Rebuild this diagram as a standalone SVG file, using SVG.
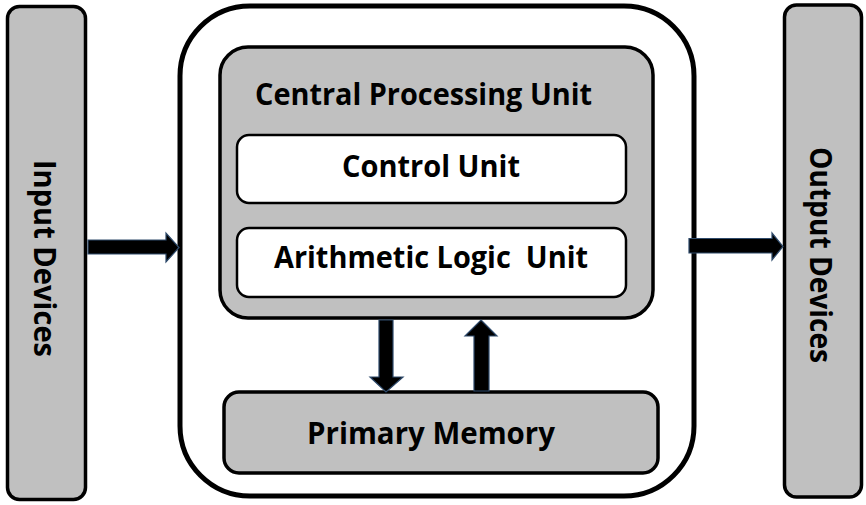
<svg xmlns="http://www.w3.org/2000/svg" width="866" height="505" viewBox="0 0 866 505">
<style>
.gray{fill:#c0c0c0;stroke:#000;stroke-width:3.5}
.white{fill:#fff;stroke:#000;stroke-width:2.5}
.outer{fill:#fff;stroke:#000;stroke-width:5}
.lbl{font-family:"Open Sans","Liberation Sans",sans-serif;font-weight:bold;font-size:30px;fill:#000;white-space:pre}
.arrow{fill:#000;stroke:#2e4a6b;stroke-width:1.2;stroke-linejoin:miter}
</style>
<rect width="866" height="505" fill="#fff"/>
<g id="input-devices">
<rect class="gray" x="7.5" y="6.5" width="78" height="493" rx="12"/>
<text class="lbl" transform="translate(34,160) rotate(90)" textLength="197" lengthAdjust="spacingAndGlyphs">Input Devices</text>
</g>
<g id="computer">
<rect class="outer" x="180" y="6" width="514" height="490" rx="70"/>
</g>
<g id="cpu">
<rect class="gray" x="220" y="47" width="433" height="271" rx="28"/>
<text class="lbl" x="255" y="105" textLength="337" lengthAdjust="spacingAndGlyphs">Central Processing Unit</text>
</g>
<g id="control-unit">
<rect class="white" x="237" y="135" width="389" height="68" rx="12"/>
<text class="lbl" x="342" y="177" textLength="178" lengthAdjust="spacingAndGlyphs">Control Unit</text>
</g>
<g id="alu">
<rect class="white" x="237" y="228" width="389" height="69" rx="12"/>
<text class="lbl" x="274" y="267.5" textLength="314" lengthAdjust="spacingAndGlyphs">Arithmetic Logic  Unit</text>
</g>
<g id="primary-memory">
<rect class="gray" x="224" y="392" width="434" height="81" rx="15"/>
<text class="lbl" x="307" y="443.5" textLength="248" lengthAdjust="spacingAndGlyphs">Primary Memory</text>
</g>
<g id="output-devices">
<rect class="gray" x="784.5" y="5" width="77" height="492" rx="12"/>
<text class="lbl" transform="translate(810,147) rotate(90)" textLength="216" lengthAdjust="spacingAndGlyphs">Output Devices</text>
</g>
<g id="connectors">
<polygon class="arrow" points="88,240 166,240 166,233 179,247.5 166,262 166,254 88,254"/>
<polygon class="arrow" points="689,238.5 772,238.5 772,233 783,246.5 772,260 772,253 689,253"/>
<polygon class="arrow" points="379,320 393,320 393,377 403,377 386,392 370,377 379,377"/>
<polygon class="arrow" points="481,320 497,336 489,336 489,391 474,391 474,336 465,336"/>
</g>
</svg>
